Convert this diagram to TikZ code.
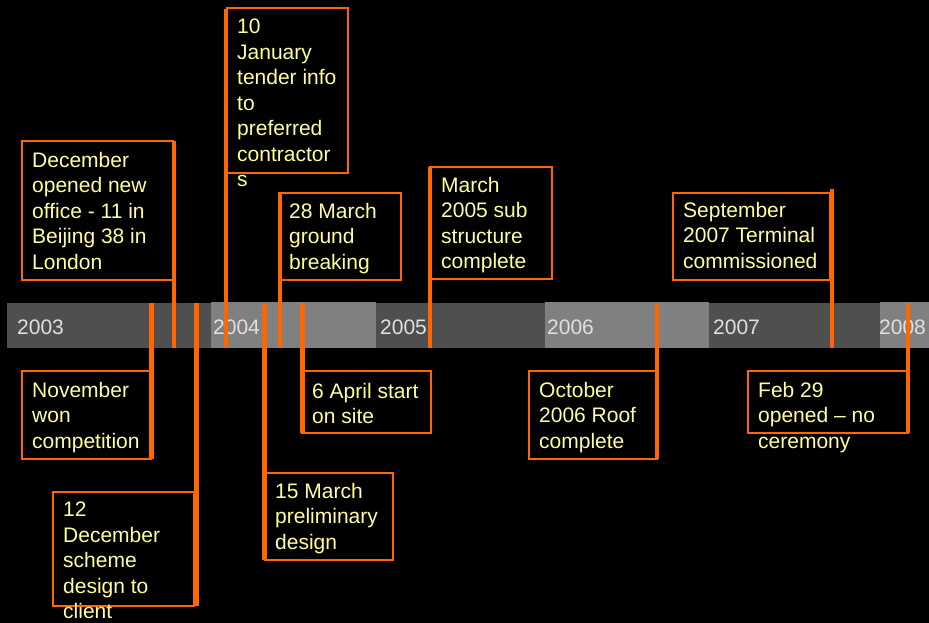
\documentclass[tikz,border=0pt]{standalone}
\usepackage{fontspec}
\setmainfont{Liberation Sans}
\definecolor{orng}{HTML}{FF6600}
\definecolor{txt}{HTML}{FFFF99}
\definecolor{bardark}{HTML}{4F4F4F}
\definecolor{barlight}{HTML}{808080}
\definecolor{yeartxt}{HTML}{E0E0E0}
\begin{document}
\begin{tikzpicture}[x=1pt,y=-1pt,
  evbox/.style={draw=orng, line width=1.1pt, fill=black, inner sep=0pt, outer sep=0pt, anchor=north west},
  evtext/.style={anchor=north west, inner sep=0pt, align=left, text=txt, font=\fontsize{21}{25.5}\selectfont},
  stem/.style={draw=orng, line width=4.8pt},
  yearlbl/.style={anchor=north west, inner sep=0pt, text=yeartxt, font=\fontsize{21}{25}\selectfont}]
% background and bounding box
\fill[black] (0,0) rectangle (929,623);
\useasboundingbox (0,0) rectangle (929,623);
% timeline bar
\fill[bardark]  (7,303) rectangle (211,348);
\fill[barlight] (211,302) rectangle (376,348);
\fill[bardark]  (376,303) rectangle (545,348);
\fill[barlight] (545,302) rectangle (709,348);
\fill[bardark]  (709,303) rectangle (880,348);
\fill[barlight] (880,302) rectangle (929,348);
\node[yearlbl] (y2003) at (17,320) {2003};
\node[yearlbl] (y2004) at (213,320) {2004};
\node[yearlbl] (y2005) at (380,320) {2005};
\node[yearlbl] (y2006) at (547,320) {2006};
\node[yearlbl] (y2007) at (713,320) {2007};
\node[yearlbl] (y2008) at (879,320) {2008};
% boxes
\node[evbox, minimum width=151pt, minimum height=139pt] (b1) at (22,141) {};
\node[evbox, minimum width=121pt, minimum height=165pt] (b2) at (227,8) {};
\node[evbox, minimum width=122pt, minimum height=87pt] (b3) at (279,193) {};
\node[evbox, minimum width=122pt, minimum height=112pt] (b4) at (430,167) {};
\node[evbox, minimum width=157pt, minimum height=87pt] (b5) at (673,193) {};
\node[evbox, minimum width=129pt, minimum height=88pt] (b6) at (22,371) {};
\node[evbox, minimum width=141pt, minimum height=114pt] (b7) at (53,492) {};
\node[evbox, minimum width=129pt, minimum height=62pt] (b8) at (302,371) {};
\node[evbox, minimum width=128pt, minimum height=87pt] (b9) at (265,473) {};
\node[evbox, minimum width=128pt, minimum height=88pt] (b10) at (529,371) {};
\node[evbox, minimum width=160pt, minimum height=62pt] (b11) at (748,371) {};
% texts
\node[evtext] (t1) at (32,152) {December\\opened new\\office - 11 in\\Beijing 38 in\\London};
\node[evtext] (t2) at (237,19) {10\\January\\tender info\\to\\preferred\\contractor\\s};
\node[evtext] (t3) at (289,203) {28 March\\ground\\breaking};
\node[evtext] (t4) at (441,177) {March\\2005 sub\\structure\\complete};
\node[evtext] (t5) at (683,202) {September\\2007 Terminal\\commissioned};
\node[evtext] (t6) at (32,382) {November\\won\\competition};
\node[evtext] (t7) at (63,502) {12\\December\\scheme\\design to\\client};
\node[evtext] (t8) at (312,383) {6 April start\\on site};
\node[evtext] (t9) at (275,483) {15 March\\preliminary\\design};
\node[evtext] (t10) at (539,382) {October\\2006 Roof\\complete};
\node[evtext] (t11) at (758,382) {Feb 29\\opened -- no\\ceremony};
% stem end points
\coordinate (s1a) at (174,141);   \coordinate (s1b) at (174,348);
\coordinate (s2a) at (226,9);     \coordinate (s2b) at (226,348);
\coordinate (s3a) at (280,193);   \coordinate (s3b) at (280,348);
\coordinate (s4a) at (430,167);   \coordinate (s4b) at (430,348);
\coordinate (s5a) at (832,189);   \coordinate (s5b) at (832,348);
\coordinate (s6a) at (151.5,303); \coordinate (s6b) at (151.5,459);
\coordinate (s7a) at (196.5,303); \coordinate (s7b) at (196.5,606);
\coordinate (s8a) at (302.5,303); \coordinate (s8b) at (302.5,433);
\coordinate (s9a) at (264.5,303); \coordinate (s9b) at (264.5,560);
\coordinate (s10a) at (657,303);  \coordinate (s10b) at (657,459);
\coordinate (s11a) at (908,303);  \coordinate (s11b) at (908,433);
% stems
\foreach \i in {1,...,11} {\draw[stem] (s\i a) -- (s\i b);}
\end{tikzpicture}
\end{document}
